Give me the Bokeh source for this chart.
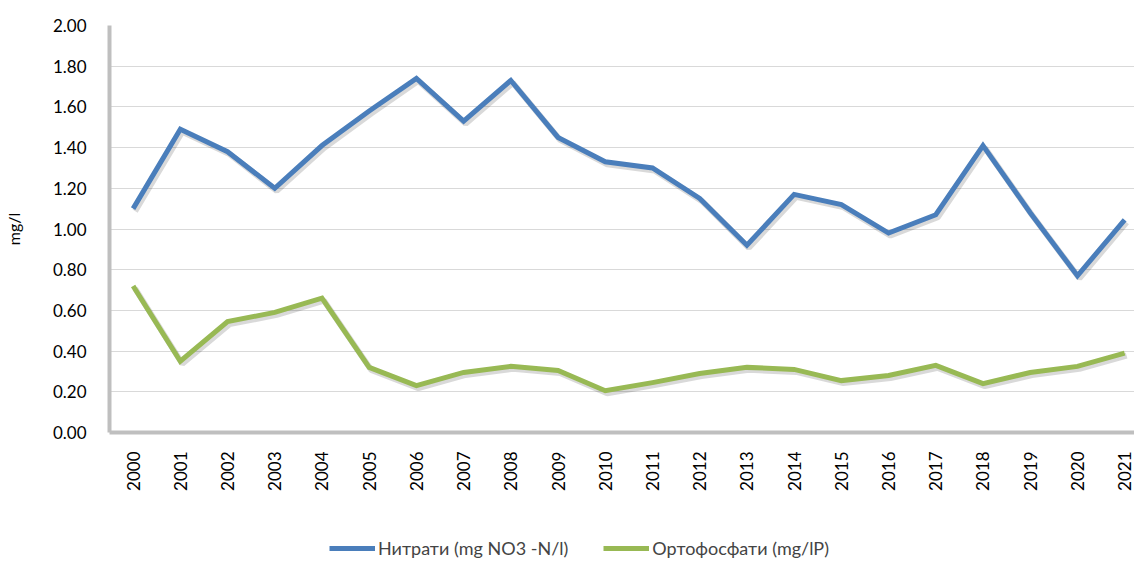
import numpy as np
from bokeh.plotting import figure
from bokeh.layouts import column
from bokeh.models import Legend, LegendItem, FixedTicker, NumeralTickFormatter, Range1d
from bokeh.embed import file_html
from bokeh.resources import INLINE

years = list(range(2000, 2022))
nitrati = [1.10, 1.49, 1.38, 1.20, 1.41, 1.58, 1.74, 1.53, 1.73, 1.45, 1.33, 1.30,
           1.15, 0.92, 1.17, 1.12, 0.98, 1.07, 1.41, 1.08, 0.77, 1.045]
ortofosfati = [0.72, 0.35, 0.545, 0.59, 0.66, 0.32, 0.23, 0.295, 0.325, 0.305, 0.205, 0.245,
               0.29, 0.32, 0.31, 0.255, 0.28, 0.33, 0.24, 0.295, 0.325, 0.39]
y_ticks = [0.0, 0.2, 0.4, 0.6, 0.8, 1.0, 1.2, 1.4, 1.6, 1.8, 2.0]
label_n = "Нитрати (mg NO3 -N/l)"
label_o = "Ортофосфати (mg/lP)"
y_label = "mg/l"

FONT = "Lato"
BLUE, GREEN = "#4a7ebb", "#98b954"
W = 1134
BL, BT, BR, BB = 105, 25, 0, 60
H = BT + 408 + BB
px_per_year = 47.4
x0 = years[0] - 0.5
x1 = x0 + (W - BL - BR) / px_per_year

p = figure(width=W, height=H, output_backend="svg", toolbar_location=None,
           x_range=Range1d(x0, x1), y_range=Range1d(0, 2.0),
           min_border_left=BL, min_border_top=BT, min_border_bottom=BB, min_border_right=BR)
p.outline_line_color = None

# grid
p.xgrid.grid_line_color = None
p.ygrid.ticker = FixedTicker(ticks=y_ticks)
p.ygrid.grid_line_color = "#d9d9d9"
p.ygrid.grid_line_width = 1

# y axis
p.yaxis.ticker = FixedTicker(ticks=y_ticks)
p.yaxis.formatter = NumeralTickFormatter(format="0.00")
p.yaxis.axis_line_color = "#bfbfbf"
p.yaxis.axis_line_width = 4
p.yaxis.major_tick_line_color = None
p.yaxis.minor_tick_line_color = None
p.yaxis.major_label_text_font = FONT
p.yaxis.major_label_text_font_size = "17px"
p.yaxis.major_label_text_color = "#000000"
p.yaxis.major_label_standoff = 17
p.yaxis.axis_label = y_label
p.yaxis.axis_label_text_font = FONT
p.yaxis.axis_label_text_font_size = "16px"
p.yaxis.axis_label_text_font_style = "normal"
p.yaxis.axis_label_text_color = "#000000"
p.yaxis.axis_label_standoff = 27

# x axis
p.xaxis.ticker = FixedTicker(ticks=years)
p.xaxis.axis_line_color = "#bfbfbf"
p.xaxis.axis_line_width = 4
p.xaxis.major_tick_line_color = None
p.xaxis.minor_tick_line_color = None
p.xaxis.major_label_orientation = np.pi / 2
p.xaxis.major_label_text_font = FONT
p.xaxis.major_label_text_font_size = "17px"
p.xaxis.major_label_text_color = "#000000"
p.xaxis.major_label_standoff = 13

# shadows (offset copies)
yrs = np.array(years, dtype=float)
dx = 2.0 / px_per_year
dy = 2.5 / (408 / 2.0)
p.line(yrs + dx, np.array(nitrati) - dy, line_color="#000000", line_alpha=0.15, line_width=6)
p.line(yrs + dx, np.array(ortofosfati) - dy, line_color="#000000", line_alpha=0.15, line_width=6)

p.line(years, nitrati, line_color=BLUE, line_width=5, line_join="miter")
p.line(years, ortofosfati, line_color=GREEN, line_width=5, line_join="miter")

# legend strip below
lg = figure(width=W, height=66, output_backend="svg", toolbar_location=None,
            x_range=Range1d(0, 1), y_range=Range1d(0, 1),
            x_axis_location=None, y_axis_location=None,
            min_border_left=0, min_border_right=0, min_border_top=0, min_border_bottom=0)
lg.grid.visible = False
lg.outline_line_color = None
rn = lg.line([-5, -4], [-5, -4], line_color=BLUE, line_width=5)
ro = lg.line([-5, -4], [-5, -4], line_color=GREEN, line_width=5)
legend = Legend(items=[LegendItem(label=label_n, renderers=[rn]),
                       LegendItem(label=label_o, renderers=[ro])],
                orientation="horizontal", location=(220, 0),
                glyph_width=46, glyph_height=16, label_standoff=3, spacing=35,
                padding=0, margin=0, border_line_color=None, background_fill_alpha=0,
                label_text_font=FONT, label_text_font_size="18px", label_height=16)
lg.add_layout(legend, "center")

open("out.html", "w").write(file_html(column(p, lg, spacing=0), INLINE))
